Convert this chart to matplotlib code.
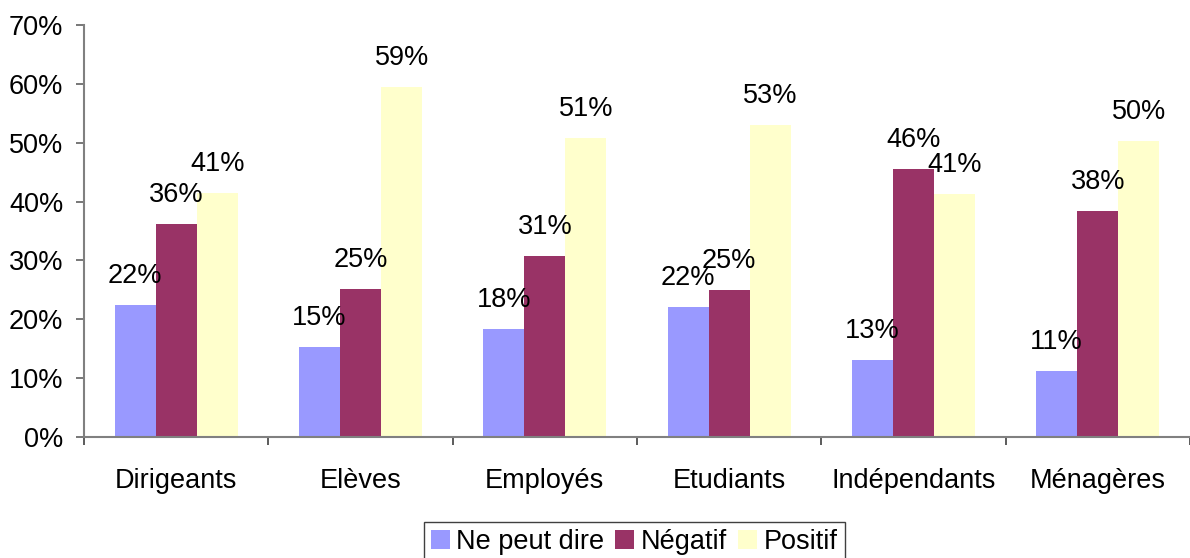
import numpy as np
import matplotlib.pyplot as plt
from matplotlib.ticker import FuncFormatter

categories = ['Dirigeants', 'Elèves', 'Employés', 'Etudiants', 'Indépendants', 'Ménagères']
series = ['Ne peut dire', 'Négatif', 'Positif']
ne_peut_dire = [22.4, 15.3, 18.4, 22.1, 13.1, 11.3]
negatif = [36.2, 25.2, 30.8, 25.0, 45.5, 38.4]
positif = [41.5, 59.4, 50.8, 52.9, 41.3, 50.3]
labels_npd = ['22%', '15%', '18%', '22%', '13%', '11%']
labels_neg = ['36%', '25%', '31%', '25%', '46%', '38%']
labels_pos = ['41%', '59%', '51%', '53%', '41%', '50%']
colors = ['#9999FF', '#993366', '#FFFFCC']

plt.rcParams['font.family'] = ['Liberation Sans', 'DejaVu Sans']
fs = 19.5

fig = plt.figure(figsize=(11.9, 5.58), dpi=100)
ax = fig.add_axes([84/1190, 1-437.3/558, 1-84/1190, (437.3-24.7)/558])

x = np.arange(len(categories))
w = 0.223
data = [ne_peut_dire, negatif, positif]
labs = [labels_npd, labels_neg, labels_pos]
for i, (vals, lab) in enumerate(zip(data, labs)):
    pos = x + (i-1)*w
    ax.bar(pos, vals, w, color=colors[i], label=series[i], linewidth=0)
    for px, v, t in zip(pos, vals, lab):
        ax.annotate(t, (px, v), xytext=(0, 20.9), textcoords='offset points',
                    ha='center', va='center', fontsize=fs, color='black')

ax.set_xlim(-0.5, 5.5)
ax.set_ylim(0, 70)
ax.set_yticks(range(0, 71, 10))
ax.yaxis.set_major_formatter(FuncFormatter(lambda v, p: '{:.0f}%'.format(v)))
ax.set_xticks(x)
ax.set_xticklabels(categories)
ax.set_xticks(np.arange(-0.5, 6, 1), minor=True)
ax.tick_params(axis='x', which='major', length=0, pad=22, labelsize=fs)
ax.tick_params(axis='x', which='minor', length=6, width=1.2, color='#404040', direction='out')
ax.tick_params(axis='y', length=6, width=1.2, color='#606060', pad=9, labelsize=fs)

for s in ['top', 'right']:
    ax.spines[s].set_visible(False)
for s in ['left', 'bottom']:
    ax.spines[s].set_color('#808080')
    ax.spines[s].set_linewidth(1.5)

fig.legend(loc='upper left', bbox_to_anchor=(424/1190, 1-522/558), ncol=3,
           fontsize=fs, frameon=True, fancybox=False, edgecolor='#404040',
           framealpha=1, borderpad=0.25, borderaxespad=0, handlelength=0.7,
           handleheight=0.7, handletextpad=0.25, columnspacing=0.4)

plt.savefig('out.png', dpi=100)
